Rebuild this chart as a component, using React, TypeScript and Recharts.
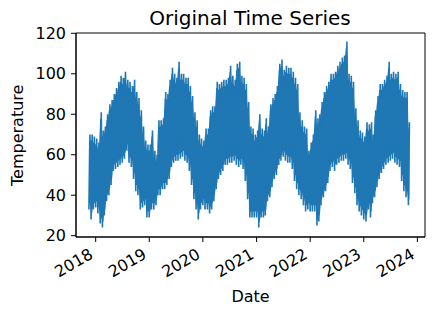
import { ComposedChart, Line, Area, XAxis, YAxis, ReferenceArea } from "recharts"

const FONT = "'DejaVu Sans', sans-serif"

// half-monthly lows/highs (1st and 16th of each month)
// starting 2017-11-16
const lows2017 = [33, 28, 33]
const highs2017 = [70, 70, 69]
const lows2018 = [34, 31, 26, 24, 30, 37, 40, 45, 52, 53, 54, 55, 56, 58, 62, 56, 54, 48, 42, 40, 33, 34, 35, 29]
const highs2018 = [68, 66, 81, 72, 74, 80, 85, 87, 90, 93, 96, 99, 98, 101, 97, 96, 94, 97, 91, 88, 82, 74, 67, 65]
const lows2019 = [29, 33, 33, 35, 40, 40, 43, 43, 45, 48, 54, 56, 57, 57, 58, 59, 57, 56, 52, 45, 38, 33, 28, 33]
const highs2019 = [65, 72, 62, 60, 77, 77, 78, 91, 90, 97, 103, 100, 98, 106, 100, 100, 98, 98, 94, 89, 81, 77, 70, 68]
const lows2020 = [35, 33, 33, 31, 33, 37, 43, 48, 50, 52, 55, 55, 56, 56, 57, 55, 54, 55, 53, 47, 38, 29, 29, 29]
const highs2020 = [67, 73, 73, 82, 84, 84, 96, 95, 96, 97, 97, 98, 104, 99, 97, 105, 106, 99, 98, 95, 86, 74, 73, 70]
const lows2021 = [29, 24, 29, 29, 30, 37, 39, 44, 48, 50, 55, 57, 59, 57, 56, 56, 53, 47, 43, 40, 38, 35, 32, 33]
const highs2021 = [72, 80, 73, 72, 78, 74, 85, 88, 90, 94, 105, 107, 102, 104, 103, 103, 101, 98, 95, 81, 77, 74, 73, 62]
const lows2022 = [32, 32, 32, 25, 27, 35, 39, 42, 46, 52, 54, 52, 55, 56, 57, 57, 58, 55, 53, 46, 41, 35, 32, 30]
const highs2022 = [66, 70, 82, 78, 80, 86, 91, 94, 96, 100, 100, 101, 104, 106, 108, 109, 116, 100, 99, 96, 83, 77, 72, 71]
const lows2023 = [28, 27, 33, 29, 36, 39, 44, 48, 51, 53, 55, 56, 57, 58, 56, 55, 54, 47, 42, 39, 35]
const highs2023 = [69, 76, 75, 76, 70, 82, 89, 95, 95, 97, 99, 106, 100, 101, 100, 101, 95, 92, 91, 91, 76]

const yearTicks = [2018, 2019, 2020, 2021, 2022, 2023, 2024]
const tempTicks = [20, 40, 60, 80, 100, 120]
const xStart = "2017-08-20"
const xEnd = "2024-02-22"
const yMin = 19.36
const yMax = 120.15

const lows = [...lows2017, ...lows2018, ...lows2019, ...lows2020, ...lows2021, ...lows2022, ...lows2023]
const highs = [...highs2017, ...highs2018, ...highs2019, ...highs2020, ...highs2021, ...highs2022, ...highs2023]

const DAY = 86400000
const data: { t: number; temp: number; band: number[] }[] = []
lows.forEach((lo, i) => {
  const k = i - 3
  const t = Date.UTC(2018, Math.floor(k / 2), ((k % 2) + 2) % 2 ? 16 : 1)
  const band = [lo + 3, highs[i] - 3]
  data.push({ t, temp: lo, band })
  data.push({ t: t + 7 * DAY, temp: highs[i], band })
})

const xTicks = yearTicks.map((y) => Date.UTC(y, 0, 1))
const xDomain = [Date.parse(xStart), Date.parse(xEnd)]

function YearTick({ x, y, payload }: any) {
  const tx = x - 1.6
  const ty = y + 15.4
  return (
    <text x={tx} y={ty} transform={`rotate(-30, ${tx}, ${ty})`} textAnchor="end" fontSize={16} fontFamily={FONT} fill="#000">
      {new Date(payload.value).getUTCFullYear()}
    </text>
  )
}

// title and x label share the bottom axis label slot
const XLabels = () => (
  <g>
    <text x={250} y={25} textAnchor="middle" fontSize={20} fontFamily={FONT} fill="#000">
      Original Time Series
    </text>
    <text x={250.5} y={302} textAnchor="middle" fontSize={16} fontFamily={FONT} fill="#000">
      Date
    </text>
  </g>
)
const YLabel = () => (
  <text x={23.4} y={135.3} transform="rotate(-90, 23.4, 135.3)" textAnchor="middle" fontSize={16} fontFamily={FONT} fill="#000">
    Temperature
  </text>
)

export default function App() {
  return (
    <div style={{ position: "absolute", left: 0, top: 0, width: 433, height: 317, background: "#fff" }}>
      <ComposedChart width={433} height={317} data={data} margin={{ top: 33, right: 8, left: 0, bottom: 0 }}>
        <XAxis
          dataKey="t"
          type="number"
          scale="time"
          domain={xDomain}
          ticks={xTicks}
          allowDataOverflow
          height={80}
          stroke="#000"
          tickSize={5}
          tickMargin={0}
          tick={<YearTick />}
          interval={0}
          label={<XLabels />}
        />
        <YAxis
          type="number"
          domain={[yMin, yMax]}
          ticks={tempTicks}
          allowDataOverflow
          width={76}
          stroke="#000"
          tickSize={5}
          tickMargin={5}
          tick={{ fontSize: 16, fontFamily: FONT, fill: "#000" }}
          interval={0}
          label={<YLabel />}
        />
        <Area type="linear" dataKey="band" stroke="none" fill="#1f77b4" fillOpacity={1} isAnimationActive={false} />
        <Line type="linear" dataKey="temp" stroke="#1f77b4" strokeWidth={1.6} dot={false} isAnimationActive={false} />
        <ReferenceArea x1={xDomain[0]} x2={xDomain[1]} y1={yMin} y2={yMax} fill="none" stroke="#000" strokeWidth={1} ifOverflow="visible" />
      </ComposedChart>
    </div>
  )
}
